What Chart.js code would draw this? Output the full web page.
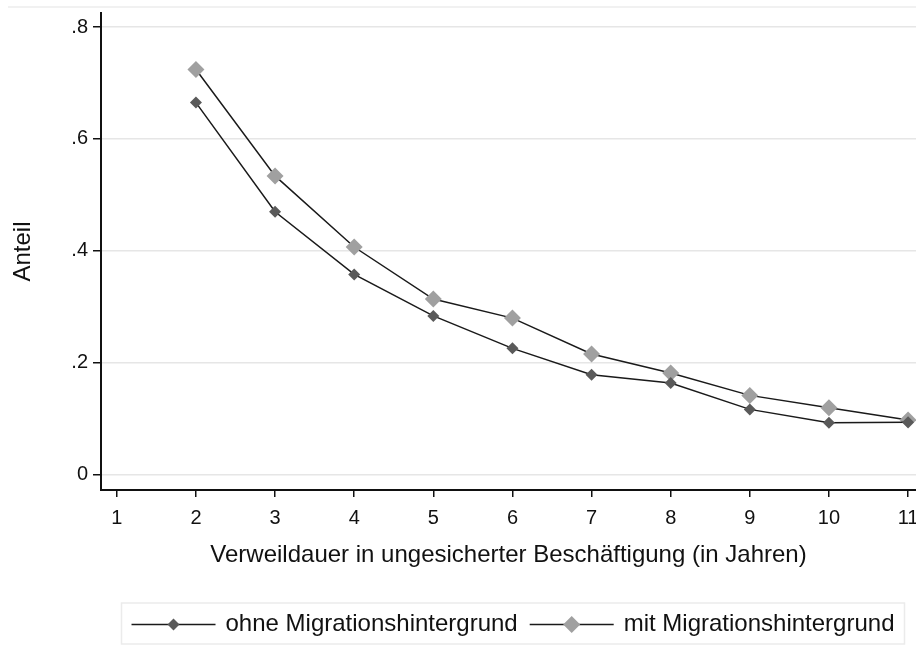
<!DOCTYPE html>
<html>
<head>
<meta charset="utf-8">
<script src="https://cdn.jsdelivr.net/npm/chart.js@4.4.1/dist/chart.umd.min.js"></script>
<style>
  body { margin: 0; background: #fff; }
  #wrap { width: 916px; height: 666px; }
</style>
</head>
<body>
<div id="wrap"><canvas id="myChart"></canvas></div>
<script>
// data
const jahre = [2, 3, 4, 5, 6, 7, 8, 9, 10, 11];
const ohneMigration = [0.665, 0.470, 0.358, 0.284, 0.226, 0.179, 0.164, 0.117, 0.093, 0.094];
const mitMigration = [0.724, 0.534, 0.407, 0.314, 0.280, 0.216, 0.182, 0.142, 0.120, 0.098];
const xTicks = [1, 2, 3, 4, 5, 6, 7, 8, 9, 10, 11];
const yTicks = [0, 0.2, 0.4, 0.6, 0.8];
const yTickLabels = ["0", ".2", ".4", ".6", ".8"];
const seriesNames = ["ohne Migrationshintergrund", "mit Migrationshintergrund"];

const FONT = "'Liberation Sans', Arial, sans-serif";

window.onload = () => {
  //Legend with line + marker, boxed
  const boxLegend = {
    id: "boxLegend",
    afterDraw(chart) {
      const c = chart.ctx;
      c.save();
      // faint outer frame line on top
      c.strokeStyle = "#ececec";
      c.lineWidth = 1.5;
      c.beginPath();
      c.moveTo(8, 7);
      c.lineTo(chart.width, 7);
      c.stroke();

      c.font = "24px " + FONT;
      c.textBaseline = "middle";
      const glyphW = 84, gapIn = 10, gapOut = 12, padX = 10;
      const items = chart.data.datasets.map((ds) => ({
        ds,
        tw: c.measureText(ds.label).width,
      }));
      let total = padX * 2;
      items.forEach((it, i) => {
        total += glyphW + gapIn + it.tw + (i < items.length - 1 ? gapOut : 0);
      });
      const left = 513 - total / 2;
      const top = 603, h = 41, cy = top + h / 2 + 1;
      c.strokeStyle = "#ebebeb";
      c.lineWidth = 1.5;
      c.strokeRect(left, top, total, h);

      let x = left + padX;
      items.forEach((it) => {
        const ds = it.ds;
        c.strokeStyle = ds.borderColor;
        c.lineWidth = ds.borderWidth;
        c.beginPath();
        c.moveTo(x, cy);
        c.lineTo(x + glyphW, cy);
        c.stroke();
        const r = ds.pointRadius, mx = x + glyphW / 2;
        c.fillStyle = ds.pointBackgroundColor;
        c.beginPath();
        c.moveTo(mx - r, cy);
        c.lineTo(mx, cy - r);
        c.lineTo(mx + r, cy);
        c.lineTo(mx, cy + r);
        c.closePath();
        c.fill();
        c.fillStyle = "#111";
        c.fillText(ds.label, x + glyphW + gapIn, cy);
        x += glyphW + gapIn + it.tw + gapOut;
      });
      c.restore();
    },
  };

  const ctx = document.getElementById("myChart");
  new Chart(ctx, {
    type: "line",
    data: {
      datasets: [
        {
          label: seriesNames[0],
          data: jahre.map((j, i) => ({ x: j, y: ohneMigration[i] })),
          borderColor: "#1a1a1a",
          borderWidth: 1.5,
          pointStyle: "rectRot",
          pointRadius: 6,
          pointBackgroundColor: "#5a5a5a",
          pointBorderColor: "#5a5a5a",
          pointBorderWidth: 0,
          tension: 0,
          clip: false,
        },
        {
          label: seriesNames[1],
          data: jahre.map((j, i) => ({ x: j, y: mitMigration[i] })),
          borderColor: "#1a1a1a",
          borderWidth: 1.5,
          pointStyle: "rectRot",
          pointRadius: 8.5,
          pointBackgroundColor: "#a0a0a0",
          pointBorderColor: "#a0a0a0",
          pointBorderWidth: 0,
          tension: 0,
          clip: false,
        },
      ],
    },
    options: {
      responsive: true,
      maintainAspectRatio: false,
      animation: false,
      layout: { autoPadding: false, padding: { top: 13, left: 0, right: 0, bottom: 0 } },
      plugins: {
        legend: { display: false },
        tooltip: { enabled: false },
      },
      scales: {
        x: {
          type: "linear",
          min: 0.8,
          max: 11.1,
          afterBuildTicks: (s) => {
            s.ticks = xTicks.map((v) => ({ value: v }));
          },
          afterFit: (s) => {
            s.height = 176;
            s.paddingLeft = 0;
            s.paddingRight = 0;
          },
          ticks: {
            color: "#111",
            font: { family: FONT, size: 20 },
            padding: 9,
            maxRotation: 0,
            autoSkip: false,
            callback: (v) => String(v),
          },
          grid: {
            drawOnChartArea: false,
            drawTicks: true,
            tickLength: 7,
            color: "#111",
            lineWidth: 1.5,
          },
          border: { display: true, color: "#111", width: 2 },
          title: {
            display: true,
            text: "Verweildauer in ungesicherter Beschäftigung (in Jahren)",
            color: "#111",
            font: { family: FONT, size: 24 },
            padding: { top: 0, bottom: 96 },
          },
        },
        y: {
          type: "linear",
          min: -0.027,
          max: 0.825,
          afterBuildTicks: (s) => {
            s.ticks = yTicks.map((v) => ({ value: v }));
          },
          afterFit: (s) => {
            s.width = 101;
            s.paddingTop = 0;
            s.paddingBottom = 0;
          },
          ticks: {
            color: "#111",
            font: { family: FONT, size: 20 },
            padding: 5,
            callback: (v) => yTickLabels[yTicks.indexOf(v)],
          },
          grid: {
            color: "#e6e6e6",
            lineWidth: 1.5,
            drawTicks: true,
            tickLength: 8,
            tickColor: "#111",
            tickWidth: 1.5,
          },
          border: { display: true, color: "#111", width: 2 },
          title: {
            display: true,
            text: "Anteil",
            color: "#111",
            font: { family: FONT, size: 24 },
            padding: { top: 9, bottom: 0 },
          },
        },
      },
    },
    plugins: [boxLegend],
  });
};
</script>
</body>
</html>
